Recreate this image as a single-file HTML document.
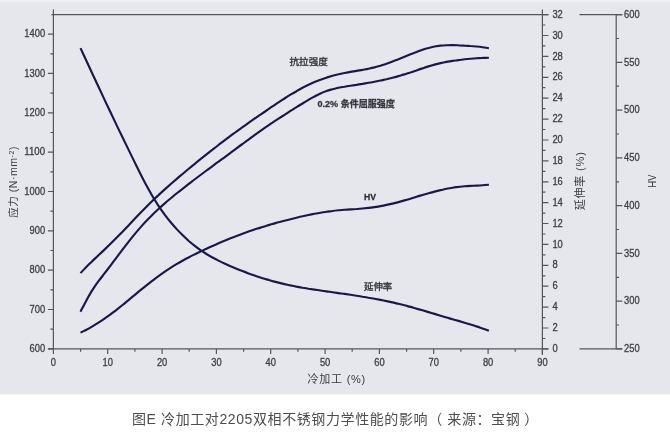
<!DOCTYPE html>
<html lang="zh"><head><meta charset="utf-8"><title>图E</title>
<style>
html,body{margin:0;padding:0;background:#fff;}
body{width:670px;height:445px;overflow:hidden;position:relative;font-family:"Liberation Sans","Noto Sans CJK SC",sans-serif;}
#bg{position:absolute;left:0;top:0;width:670px;height:394px;background:#e6e7ed;border-bottom:1px solid #f3f4f7;}
#topline{position:absolute;left:0;top:0;width:670px;height:3px;background:linear-gradient(#f1f1f4,#eeeff2 50%,#e8e9ee);}
svg{position:absolute;left:0;top:0;}
#cap{position:absolute;left:132px;top:405.3px;letter-spacing:0.6px;font-size:14px;line-height:26px;color:#4d4d4d;white-space:pre;font-family:"Liberation Sans","Noto Sans CJK SC",sans-serif;}
.t{font-family:"Liberation Sans","Noto Sans CJK SC",sans-serif;font-size:9.4px;fill:#3e3f45;stroke:#3e3f45;stroke-width:0.3px;}
.pl{position:relative;left:-4.5px;}.pr{position:relative;left:4px;}
.n{stroke:none !important;fill:#3a3b40;}
.c{fill:#34353b;stroke:#34353b;stroke-width:0.35px;}
.tc{font-family:"Noto Sans CJK TC",sans-serif;}
.b{font-weight:bold;fill:#333438;}
</style></head><body>
<div id="bg"></div><div id="topline"></div>
<svg width="670" height="445" viewBox="0 0 670 445">

<g stroke="#55565c" stroke-width="1.2" fill="none" stroke-linecap="butt">
<path d="M53.4 9.5V348.9"/>
<path d="M51.4 14.6H548.4"/>
<path d="M47.9 348.9H548.4"/>
<path d="M542.4 9.5V354.9"/>
<path d="M616.2 14.6V348.9"/>
<path d="M579.5 14.6H622.3"/>
<path d="M579.5 348.9H622.3"/>
<path d="M47.9 348.9H53.4M50.4 329.2H53.4M47.9 309.5H53.4M50.4 289.9H53.4M47.9 270.2H53.4M50.4 250.5H53.4M47.9 230.8H53.4M50.4 211.2H53.4M47.9 191.5H53.4M50.4 171.8H53.4M47.9 152.2H53.4M50.4 132.5H53.4M47.9 112.8H53.4M50.4 93.1H53.4M47.9 73.4H53.4M50.4 53.8H53.4M47.9 34.1H53.4M53.4 348.9V354.1M80.6 348.9V351.7M107.7 348.9V354.1M134.9 348.9V351.7M162.1 348.9V354.1M189.2 348.9V351.7M216.4 348.9V354.1M243.6 348.9V351.7M270.7 348.9V354.1M297.9 348.9V351.7M325.1 348.9V354.1M352.2 348.9V351.7M379.4 348.9V354.1M406.6 348.9V351.7M433.7 348.9V354.1M460.9 348.9V351.7M488.1 348.9V354.1M515.2 348.9V351.7M542.4 348.9V354.1M542.4 348.9H548.4M542.4 338.5H545.4M542.4 328.0H548.4M542.4 317.6H545.4M542.4 307.1H548.4M542.4 296.7H545.4M542.4 286.2H548.4M542.4 275.8H545.4M542.4 265.3H548.4M542.4 254.9H545.4M542.4 244.4H548.4M542.4 234.0H545.4M542.4 223.5H548.4M542.4 213.1H545.4M542.4 202.6H548.4M542.4 192.2H545.4M542.4 181.8H548.4M542.4 171.3H545.4M542.4 160.9H548.4M542.4 150.4H545.4M542.4 140.0H548.4M542.4 129.5H545.4M542.4 119.1H548.4M542.4 108.6H545.4M542.4 98.2H548.4M542.4 87.7H545.4M542.4 77.3H548.4M542.4 66.8H545.4M542.4 56.4H548.4M542.4 45.9H545.4M542.4 35.5H548.4M542.4 25.0H545.4M542.4 14.6H548.4M616.2 348.9H622.3M616.2 325.0H619M616.2 301.1H622.3M616.2 277.3H619M616.2 253.4H622.3M616.2 229.5H619M616.2 205.6H622.3M616.2 181.8H619M616.2 157.9H622.3M616.2 134.0H619M616.2 110.1H622.3M616.2 86.2H619M616.2 62.4H622.3M616.2 38.5H619M616.2 14.6H622.3"/>
</g>
<g class="t" style="font-size:10.2px">
<text x="45.1" y="352.0" text-anchor="end" textLength="15.6" lengthAdjust="spacingAndGlyphs">600</text>
<text x="45.1" y="312.6" text-anchor="end" textLength="15.6" lengthAdjust="spacingAndGlyphs">700</text>
<text x="45.1" y="273.3" text-anchor="end" textLength="15.6" lengthAdjust="spacingAndGlyphs">800</text>
<text x="45.1" y="233.9" text-anchor="end" textLength="15.6" lengthAdjust="spacingAndGlyphs">900</text>
<text x="45.1" y="194.6" text-anchor="end" textLength="20.8" lengthAdjust="spacingAndGlyphs">1000</text>
<text x="45.1" y="155.2" text-anchor="end" textLength="20.8" lengthAdjust="spacingAndGlyphs">1100</text>
<text x="45.1" y="115.9" text-anchor="end" textLength="20.8" lengthAdjust="spacingAndGlyphs">1200</text>
<text x="45.1" y="76.5" text-anchor="end" textLength="20.8" lengthAdjust="spacingAndGlyphs">1300</text>
<text x="45.1" y="37.2" text-anchor="end" textLength="20.8" lengthAdjust="spacingAndGlyphs">1400</text>
<text x="53.4" y="366.3" text-anchor="middle" textLength="5.2" lengthAdjust="spacingAndGlyphs">0</text>
<text x="107.7" y="366.3" text-anchor="middle" textLength="10.4" lengthAdjust="spacingAndGlyphs">10</text>
<text x="162.1" y="366.3" text-anchor="middle" textLength="10.4" lengthAdjust="spacingAndGlyphs">20</text>
<text x="216.4" y="366.3" text-anchor="middle" textLength="10.4" lengthAdjust="spacingAndGlyphs">30</text>
<text x="270.7" y="366.3" text-anchor="middle" textLength="10.4" lengthAdjust="spacingAndGlyphs">40</text>
<text x="325.1" y="366.3" text-anchor="middle" textLength="10.4" lengthAdjust="spacingAndGlyphs">50</text>
<text x="379.4" y="366.3" text-anchor="middle" textLength="10.4" lengthAdjust="spacingAndGlyphs">60</text>
<text x="433.7" y="366.3" text-anchor="middle" textLength="10.4" lengthAdjust="spacingAndGlyphs">70</text>
<text x="488.1" y="366.3" text-anchor="middle" textLength="10.4" lengthAdjust="spacingAndGlyphs">80</text>
<text x="542.4" y="366.3" text-anchor="middle" textLength="10.4" lengthAdjust="spacingAndGlyphs">90</text>
<text x="552.4" y="352.0" textLength="5.2" lengthAdjust="spacingAndGlyphs">0</text>
<text x="552.4" y="331.1" textLength="5.2" lengthAdjust="spacingAndGlyphs">2</text>
<text x="552.4" y="310.2" textLength="5.2" lengthAdjust="spacingAndGlyphs">4</text>
<text x="552.4" y="289.3" textLength="5.2" lengthAdjust="spacingAndGlyphs">6</text>
<text x="552.4" y="268.4" textLength="5.2" lengthAdjust="spacingAndGlyphs">8</text>
<text x="552.4" y="247.5" textLength="10.4" lengthAdjust="spacingAndGlyphs">10</text>
<text x="552.4" y="226.6" textLength="10.4" lengthAdjust="spacingAndGlyphs">12</text>
<text x="552.4" y="205.7" textLength="10.4" lengthAdjust="spacingAndGlyphs">14</text>
<text x="552.4" y="184.8" textLength="10.4" lengthAdjust="spacingAndGlyphs">16</text>
<text x="552.4" y="164.0" textLength="10.4" lengthAdjust="spacingAndGlyphs">18</text>
<text x="552.4" y="143.1" textLength="10.4" lengthAdjust="spacingAndGlyphs">20</text>
<text x="552.4" y="122.2" textLength="10.4" lengthAdjust="spacingAndGlyphs">22</text>
<text x="552.4" y="101.3" textLength="10.4" lengthAdjust="spacingAndGlyphs">24</text>
<text x="552.4" y="80.4" textLength="10.4" lengthAdjust="spacingAndGlyphs">26</text>
<text x="552.4" y="59.5" textLength="10.4" lengthAdjust="spacingAndGlyphs">28</text>
<text x="552.4" y="38.6" textLength="10.4" lengthAdjust="spacingAndGlyphs">30</text>
<text x="552.4" y="17.7" textLength="10.4" lengthAdjust="spacingAndGlyphs">32</text>
<text x="624" y="352.0" textLength="15.6" lengthAdjust="spacingAndGlyphs">250</text>
<text x="624" y="304.2" textLength="15.6" lengthAdjust="spacingAndGlyphs">300</text>
<text x="624" y="256.5" textLength="15.6" lengthAdjust="spacingAndGlyphs">350</text>
<text x="624" y="208.7" textLength="15.6" lengthAdjust="spacingAndGlyphs">400</text>
<text x="624" y="161.0" textLength="15.6" lengthAdjust="spacingAndGlyphs">450</text>
<text x="624" y="113.2" textLength="15.6" lengthAdjust="spacingAndGlyphs">500</text>
<text x="624" y="65.5" textLength="15.6" lengthAdjust="spacingAndGlyphs">550</text>
<text x="624" y="17.7" textLength="15.6" lengthAdjust="spacingAndGlyphs">600</text>
</g>
<g stroke="#1a184a" stroke-width="2.15" fill="none" stroke-linecap="butt" stroke-linejoin="round">
<path d="M80.5 273.1 C81.5 272.0 84.5 268.9 86.5 266.8 C88.5 264.8 90.5 262.9 92.5 260.9 C94.5 259.0 96.5 257.1 98.5 255.2 C100.5 253.4 102.5 251.5 104.5 249.6 C106.5 247.7 108.5 245.8 110.5 243.8 C112.5 241.9 114.5 239.9 116.5 237.8 C118.5 235.8 120.5 233.7 122.5 231.7 C124.5 229.6 126.5 227.5 128.5 225.4 C130.5 223.3 132.5 221.2 134.5 219.1 C136.5 217.0 138.5 214.9 140.5 212.8 C142.5 210.8 144.5 208.7 146.5 206.7 C148.5 204.7 150.5 202.7 152.5 200.8 C154.5 198.8 156.5 196.9 158.5 195.1 C160.5 193.2 162.5 191.4 164.5 189.6 C166.5 187.8 168.5 186.0 170.5 184.2 C172.5 182.5 174.5 180.8 176.5 179.1 C178.5 177.3 180.5 175.7 182.5 174.0 C184.5 172.3 186.5 170.7 188.5 169.0 C190.5 167.3 192.5 165.7 194.5 164.1 C196.5 162.4 198.5 160.8 200.5 159.2 C202.5 157.6 204.5 156.0 206.5 154.4 C208.5 152.8 210.5 151.2 212.5 149.7 C214.5 148.1 216.5 146.5 218.5 145.0 C220.5 143.5 222.5 141.9 224.5 140.4 C226.5 138.9 228.5 137.4 230.5 135.9 C232.5 134.4 234.5 133.0 236.5 131.5 C238.5 130.1 240.5 128.6 242.5 127.2 C244.5 125.8 246.5 124.3 248.5 122.9 C250.5 121.5 252.5 120.1 254.5 118.7 C256.5 117.3 258.5 116.0 260.5 114.6 C262.5 113.2 264.5 111.8 266.5 110.5 C268.5 109.1 270.5 107.8 272.5 106.4 C274.5 105.1 276.5 103.7 278.5 102.4 C280.5 101.1 282.5 99.8 284.5 98.5 C286.5 97.2 288.5 95.9 290.5 94.7 C292.5 93.5 294.5 92.3 296.5 91.2 C298.5 90.0 300.5 88.9 302.5 87.8 C304.5 86.8 306.5 85.8 308.5 84.8 C310.5 83.9 312.5 83.0 314.5 82.1 C316.5 81.3 318.5 80.5 320.5 79.7 C322.5 79.0 324.5 78.3 326.5 77.6 C328.5 77.0 330.5 76.4 332.5 75.8 C334.5 75.2 336.5 74.7 338.5 74.3 C340.5 73.8 342.5 73.4 344.5 73.0 C346.5 72.6 348.5 72.2 350.5 71.9 C352.5 71.6 354.5 71.2 356.5 70.9 C358.5 70.6 360.5 70.2 362.5 69.9 C364.5 69.5 366.5 69.2 368.5 68.7 C370.5 68.3 372.5 67.9 374.5 67.4 C376.5 66.8 378.5 66.3 380.5 65.7 C382.5 65.0 384.5 64.4 386.5 63.7 C388.5 63.0 390.5 62.3 392.5 61.5 C394.5 60.7 396.5 60.0 398.5 59.2 C400.5 58.4 402.5 57.6 404.5 56.8 C406.5 56.0 408.5 55.1 410.5 54.3 C412.5 53.5 414.5 52.7 416.5 52.0 C418.5 51.2 420.5 50.5 422.5 49.8 C424.5 49.1 426.5 48.5 428.5 48.0 C430.5 47.4 432.5 46.9 434.5 46.5 C436.5 46.2 438.5 45.9 440.5 45.6 C442.5 45.4 444.5 45.3 446.5 45.2 C448.5 45.1 450.5 45.1 452.5 45.1 C454.5 45.1 456.5 45.2 458.5 45.3 C460.5 45.3 462.5 45.4 464.5 45.6 C466.5 45.7 468.5 45.8 470.5 46.0 C472.5 46.1 474.5 46.3 476.5 46.5 C478.5 46.7 480.4 46.9 482.5 47.2 C484.6 47.5 487.8 48.0 488.9 48.2"/>
<path d="M80.5 311.7 C81.5 309.8 84.5 303.9 86.5 300.2 C88.5 296.6 90.5 293.0 92.5 289.9 C94.5 286.7 96.5 283.9 98.5 281.2 C100.5 278.5 102.5 276.0 104.5 273.4 C106.5 270.8 108.5 268.2 110.5 265.6 C112.5 262.9 114.5 260.2 116.5 257.6 C118.5 254.9 120.5 252.2 122.5 249.6 C124.5 247.0 126.5 244.4 128.5 241.8 C130.5 239.3 132.5 236.8 134.5 234.4 C136.5 232.0 138.5 229.6 140.5 227.4 C142.5 225.1 144.5 222.9 146.5 220.8 C148.5 218.7 150.5 216.7 152.5 214.7 C154.5 212.7 156.5 210.8 158.5 209.0 C160.5 207.1 162.5 205.4 164.5 203.6 C166.5 201.8 168.5 200.1 170.5 198.5 C172.5 196.8 174.5 195.2 176.5 193.5 C178.5 191.9 180.5 190.3 182.5 188.8 C184.5 187.2 186.5 185.6 188.5 184.1 C190.5 182.6 192.5 181.0 194.5 179.5 C196.5 178.0 198.5 176.5 200.5 175.0 C202.5 173.5 204.5 172.0 206.5 170.5 C208.5 169.0 210.5 167.6 212.5 166.1 C214.5 164.6 216.5 163.1 218.5 161.7 C220.5 160.2 222.5 158.7 224.5 157.3 C226.5 155.8 228.5 154.3 230.5 152.8 C232.5 151.3 234.5 149.9 236.5 148.4 C238.5 146.9 240.5 145.4 242.5 144.0 C244.5 142.5 246.5 141.0 248.5 139.6 C250.5 138.1 252.5 136.7 254.5 135.2 C256.5 133.8 258.5 132.4 260.5 130.9 C262.5 129.5 264.5 128.1 266.5 126.7 C268.5 125.4 270.5 124.0 272.5 122.7 C274.5 121.3 276.5 120.0 278.5 118.7 C280.5 117.4 282.5 116.1 284.5 114.8 C286.5 113.5 288.5 112.2 290.5 110.9 C292.5 109.7 294.5 108.4 296.5 107.2 C298.5 105.9 300.5 104.7 302.5 103.5 C304.5 102.2 306.5 101.0 308.5 99.8 C310.5 98.7 312.5 97.5 314.5 96.5 C316.5 95.4 318.5 94.4 320.5 93.5 C322.5 92.6 324.5 91.8 326.5 91.1 C328.5 90.3 330.5 89.8 332.5 89.2 C334.5 88.7 336.5 88.3 338.5 87.8 C340.5 87.4 342.5 87.1 344.5 86.8 C346.5 86.4 348.5 86.1 350.5 85.8 C352.5 85.5 354.5 85.2 356.5 84.9 C358.5 84.5 360.5 84.2 362.5 83.9 C364.5 83.5 366.5 83.2 368.5 82.8 C370.5 82.5 372.5 82.1 374.5 81.7 C376.5 81.3 378.5 80.9 380.5 80.5 C382.5 80.1 384.5 79.6 386.5 79.2 C388.5 78.7 390.5 78.2 392.5 77.7 C394.5 77.2 396.5 76.7 398.5 76.1 C400.5 75.5 402.5 75.0 404.5 74.4 C406.5 73.7 408.5 73.1 410.5 72.5 C412.5 71.8 414.5 71.1 416.5 70.4 C418.5 69.7 420.5 69.0 422.5 68.4 C424.5 67.7 426.5 67.0 428.5 66.4 C430.5 65.8 432.5 65.2 434.5 64.6 C436.5 64.1 438.5 63.6 440.5 63.1 C442.5 62.7 444.5 62.3 446.5 61.9 C448.5 61.6 450.5 61.2 452.5 60.9 C454.5 60.6 456.5 60.4 458.5 60.1 C460.5 59.8 462.5 59.6 464.5 59.3 C466.5 59.1 468.5 58.9 470.5 58.7 C472.5 58.5 474.5 58.3 476.5 58.2 C478.5 58.1 480.4 57.9 482.5 57.9 C484.6 57.8 487.8 57.8 488.9 57.7"/>
<path d="M80.5 332.6 C81.5 332.1 84.5 330.7 86.5 329.7 C88.5 328.7 90.5 327.6 92.5 326.4 C94.5 325.2 96.5 324.0 98.5 322.7 C100.5 321.4 102.5 320.1 104.5 318.7 C106.5 317.3 108.5 315.9 110.5 314.4 C112.5 312.9 114.5 311.3 116.5 309.8 C118.5 308.2 120.5 306.6 122.5 305.0 C124.5 303.4 126.5 301.7 128.5 300.1 C130.5 298.4 132.5 296.7 134.5 295.1 C136.5 293.4 138.5 291.8 140.5 290.1 C142.5 288.5 144.5 286.9 146.5 285.3 C148.5 283.7 150.5 282.1 152.5 280.6 C154.5 279.1 156.5 277.5 158.5 276.1 C160.5 274.6 162.5 273.2 164.5 271.8 C166.5 270.4 168.5 269.1 170.5 267.8 C172.5 266.5 174.5 265.3 176.5 264.1 C178.5 262.9 180.5 261.8 182.5 260.7 C184.5 259.6 186.5 258.5 188.5 257.5 C190.5 256.4 192.5 255.4 194.5 254.4 C196.5 253.5 198.5 252.5 200.5 251.5 C202.5 250.6 204.5 249.6 206.5 248.7 C208.5 247.8 210.5 246.9 212.5 246.0 C214.5 245.1 216.5 244.2 218.5 243.3 C220.5 242.5 222.5 241.6 224.5 240.8 C226.5 239.9 228.5 239.1 230.5 238.3 C232.5 237.5 234.5 236.7 236.5 236.0 C238.5 235.2 240.5 234.4 242.5 233.7 C244.5 233.0 246.5 232.3 248.5 231.6 C250.5 230.9 252.5 230.2 254.5 229.5 C256.5 228.9 258.5 228.2 260.5 227.6 C262.5 227.0 264.5 226.3 266.5 225.7 C268.5 225.1 270.5 224.6 272.5 224.0 C274.5 223.4 276.5 222.9 278.5 222.3 C280.5 221.8 282.5 221.2 284.5 220.7 C286.5 220.2 288.5 219.7 290.5 219.2 C292.5 218.7 294.5 218.2 296.5 217.7 C298.5 217.2 300.5 216.7 302.5 216.3 C304.5 215.8 306.5 215.4 308.5 215.0 C310.5 214.6 312.5 214.2 314.5 213.8 C316.5 213.4 318.5 213.0 320.5 212.7 C322.5 212.4 324.5 212.0 326.5 211.7 C328.5 211.5 330.5 211.2 332.5 211.0 C334.5 210.7 336.5 210.5 338.5 210.3 C340.5 210.1 342.5 210.0 344.5 209.8 C346.5 209.7 348.5 209.5 350.5 209.4 C352.5 209.3 354.5 209.1 356.5 209.0 C358.5 208.8 360.5 208.7 362.5 208.5 C364.5 208.3 366.5 208.1 368.5 207.9 C370.5 207.7 372.5 207.4 374.5 207.1 C376.5 206.8 378.5 206.5 380.5 206.1 C382.5 205.8 384.5 205.4 386.5 204.9 C388.5 204.5 390.5 204.1 392.5 203.6 C394.5 203.1 396.5 202.6 398.5 202.1 C400.5 201.6 402.5 201.0 404.5 200.4 C406.5 199.9 408.5 199.3 410.5 198.7 C412.5 198.1 414.5 197.4 416.5 196.8 C418.5 196.2 420.5 195.6 422.5 195.0 C424.5 194.4 426.5 193.8 428.5 193.3 C430.5 192.7 432.5 192.1 434.5 191.6 C436.5 191.1 438.5 190.6 440.5 190.1 C442.5 189.7 444.5 189.2 446.5 188.8 C448.5 188.4 450.5 188.1 452.5 187.7 C454.5 187.4 456.5 187.1 458.5 186.9 C460.5 186.6 462.5 186.5 464.5 186.3 C466.5 186.1 468.5 186.0 470.5 185.9 C472.5 185.8 474.5 185.7 476.5 185.6 C478.5 185.5 480.4 185.4 482.5 185.2 C484.6 185.1 487.8 184.8 488.9 184.7"/>
<path d="M80.5 48.1 C81.5 50.2 84.5 56.7 86.5 61.0 C88.5 65.4 90.5 69.7 92.5 74.0 C94.5 78.3 96.5 82.6 98.5 86.8 C100.5 91.1 102.5 95.4 104.5 99.6 C106.5 103.8 108.5 108.1 110.5 112.3 C112.5 116.5 114.5 120.7 116.5 124.9 C118.5 129.0 120.5 133.2 122.5 137.3 C124.5 141.4 126.5 145.5 128.5 149.6 C130.5 153.7 132.5 157.8 134.5 161.9 C136.5 165.9 138.5 170.0 140.5 174.0 C142.5 177.9 144.5 181.9 146.5 185.6 C148.5 189.3 150.5 192.9 152.5 196.3 C154.5 199.6 156.5 202.8 158.5 205.8 C160.5 208.8 162.5 211.6 164.5 214.3 C166.5 217.0 168.5 219.6 170.5 222.0 C172.5 224.4 174.5 226.7 176.5 228.9 C178.5 231.1 180.5 233.1 182.5 235.1 C184.5 237.1 186.5 238.9 188.5 240.7 C190.5 242.4 192.5 244.1 194.5 245.6 C196.5 247.2 198.5 248.7 200.5 250.1 C202.5 251.4 204.5 252.7 206.5 254.0 C208.5 255.2 210.5 256.4 212.5 257.5 C214.5 258.6 216.5 259.6 218.5 260.6 C220.5 261.6 222.5 262.6 224.5 263.5 C226.5 264.4 228.5 265.3 230.5 266.2 C232.5 267.1 234.5 267.9 236.5 268.7 C238.5 269.6 240.5 270.4 242.5 271.1 C244.5 271.9 246.5 272.7 248.5 273.4 C250.5 274.1 252.5 274.8 254.5 275.5 C256.5 276.2 258.5 276.9 260.5 277.5 C262.5 278.1 264.5 278.8 266.5 279.4 C268.5 280.0 270.5 280.5 272.5 281.1 C274.5 281.6 276.5 282.1 278.5 282.6 C280.5 283.1 282.5 283.6 284.5 284.1 C286.5 284.5 288.5 285.0 290.5 285.4 C292.5 285.8 294.5 286.2 296.5 286.6 C298.5 286.9 300.5 287.3 302.5 287.7 C304.5 288.0 306.5 288.3 308.5 288.7 C310.5 289.0 312.5 289.3 314.5 289.6 C316.5 289.9 318.5 290.2 320.5 290.5 C322.5 290.8 324.5 291.1 326.5 291.4 C328.5 291.7 330.5 291.9 332.5 292.2 C334.5 292.5 336.5 292.8 338.5 293.1 C340.5 293.4 342.5 293.6 344.5 293.9 C346.5 294.2 348.5 294.5 350.5 294.8 C352.5 295.1 354.5 295.4 356.5 295.7 C358.5 296.0 360.5 296.3 362.5 296.7 C364.5 297.0 366.5 297.3 368.5 297.7 C370.5 298.0 372.5 298.4 374.5 298.7 C376.5 299.1 378.5 299.5 380.5 299.9 C382.5 300.3 384.5 300.7 386.5 301.1 C388.5 301.5 390.5 301.9 392.5 302.4 C394.5 302.9 396.5 303.3 398.5 303.8 C400.5 304.3 402.5 304.8 404.5 305.3 C406.5 305.8 408.5 306.4 410.5 306.9 C412.5 307.5 414.5 308.0 416.5 308.6 C418.5 309.1 420.5 309.7 422.5 310.3 C424.5 310.9 426.5 311.5 428.5 312.1 C430.5 312.7 432.5 313.3 434.5 313.9 C436.5 314.5 438.5 315.1 440.5 315.7 C442.5 316.3 444.5 316.9 446.5 317.5 C448.5 318.1 450.5 318.6 452.5 319.2 C454.5 319.8 456.5 320.4 458.5 320.9 C460.5 321.5 462.5 322.1 464.5 322.7 C466.5 323.3 468.5 323.9 470.5 324.5 C472.5 325.1 474.5 325.7 476.5 326.4 C478.5 327.0 480.4 327.7 482.5 328.4 C484.6 329.2 487.8 330.4 488.9 330.8"/>
</g>
<text class="t c" x="289.5" y="64.8" style="font-size:9.6px">抗拉强度</text>
<text class="t b" x="317.5" y="106.8" style="font-size:9.05px">0.2% 条件屈服强度</text>
<text class="t b" x="364" y="200" textLength="12" lengthAdjust="spacingAndGlyphs" style="font-size:9.6px;fill:#26272b">HV</text>
<text class="t c" x="364" y="289.7" style="font-size:9.4px">延伸率</text>
<text class="t n" x="307.6" y="383" style="font-size:11px;letter-spacing:0.75px">冷加工 (%)</text>
<text class="t n" transform="translate(17.3,181.9) rotate(-90)" text-anchor="middle" style="font-size:10.5px;letter-spacing:0.55px">应力 (N·mm<tspan dy="-3" style="font-size:7px">-2</tspan><tspan dy="3">)</tspan></text>
<text class="t n" transform="translate(584,180.8) rotate(-90)" text-anchor="middle" style="font-size:11px;letter-spacing:0.85px">延伸率 (%)</text>
<text class="t n" transform="translate(655.5,181) rotate(-90)" text-anchor="middle" textLength="12.8" lengthAdjust="spacingAndGlyphs" style="font-size:10.4px;fill:#2e2f33">HV</text>
</svg>
<div id="cap">图E 冷加工对2205双相不锈钢力学性能的影响 <span class="pl">（</span>来源<span class="tc">：</span>宝钢<span class="pr">）</span></div>
</body></html>
